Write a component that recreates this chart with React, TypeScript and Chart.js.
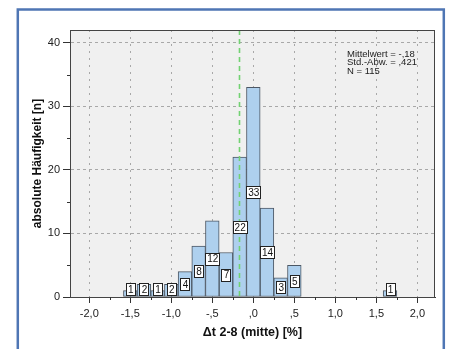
import React, { useEffect, useRef } from "react";
import { Chart, registerables } from "chart.js";

Chart.register(...registerables);

// ---- data ----
const BIN_CENTERS = [-1.5, -1.3333, -1.1667, -1.0, -0.8333, -0.6667, -0.5, -0.3333, -0.1667, 0, 0.1667, 0.3333, 0.5, 1.6667];
const COUNTS = [1, 2, 1, 2, 4, 8, 12, 7, 22, 33, 14, 3, 5, 1];
const MEAN = -0.18;
const X_TICK_VALUES = [-2, -1.5, -1, -0.5, 0, 0.5, 1, 1.5, 2];
const X_TICK_LABELS = ["-2,0", "-1,5", "-1,0", "-,5", ",0", ",5", "1,0", "1,5", "2,0"];
const X_MINOR_TICKS = [-1.75, -1.25, -0.75, -0.25, 0.25, 0.75, 1.25, 1.75];
const Y_TICK_VALUES = [0, 10, 20, 30, 40];
const Y_TICK_LABELS = ["0", "10", "20", "30", "40"];
const Y_MINOR_TICKS = [5, 15, 25, 35];
const ANNOTATION_LINES = ["Mittelwert = -,18", "Std.-Abw. = ,421", "N = 115"];
const X_TITLE = "\u0394t 2-8 (mitte) [%]";
const Y_TITLE = "absolute H\u00e4ufigkeit [n]";

const FONT = "'Liberation Sans', Arial, sans-serif";

const decorPlugin = {
  id: "decor",
  beforeDraw(chart: any) {
    const { ctx, chartArea: a } = chart;
    ctx.save();
    ctx.fillStyle = "#ffffff";
    ctx.fillRect(0, 0, chart.width, chart.height);
    ctx.strokeStyle = "#4f76b4";
    ctx.lineWidth = 2.5;
    ctx.strokeRect(17.8, 9.5, 426, 400);
    ctx.fillStyle = "#f0f0f0";
    ctx.fillRect(a.left, a.top, a.right - a.left, a.bottom - a.top);
    ctx.restore();
  },
  afterDatasetsDraw(chart: any) {
    const { ctx, chartArea: a } = chart;
    const xs = chart.scales.x;
    // mean line
    ctx.save();
    const mx = Math.round(xs.getPixelForValue(MEAN)) + 0.5;
    ctx.strokeStyle = "#72d272";
    ctx.lineWidth = 1.6;
    ctx.setLineDash([5, 4]);
    ctx.beginPath();
    ctx.moveTo(mx, a.top);
    ctx.lineTo(mx, a.bottom);
    ctx.stroke();
    ctx.restore();
    // value labels
    const meta = chart.getDatasetMeta(0);
    ctx.save();
    ctx.font = `10px ${FONT}`;
    ctx.textAlign = "center";
    ctx.textBaseline = "middle";
    meta.data.forEach((bar: any, i: number) => {
      const txt = String(COUNTS[i]);
      const tw = ctx.measureText(txt).width;
      const w = Math.round(tw + 3);
      const h = 12;
      let cy = (bar.y + bar.base) / 2;
      cy = Math.min(cy, a.bottom - 8);
      const x0 = Math.round(bar.x - w / 2) + 0.5;
      const y0 = Math.round(cy - h / 2) + 0.5;
      ctx.fillStyle = "#ffffff";
      ctx.fillRect(x0, y0, w, h);
      ctx.strokeStyle = "#222";
      ctx.lineWidth = 1;
      ctx.strokeRect(x0, y0, w, h);
      ctx.fillStyle = "#111";
      ctx.fillText(txt, bar.x + 0.5, cy + 1);
    });
    ctx.restore();
  },
  afterDraw(chart: any) {
    const { ctx, chartArea: a } = chart;
    const xs = chart.scales.x;
    const ys = chart.scales.y;
    ctx.save();
    ctx.strokeStyle = "#444";
    ctx.lineWidth = 1;
    ctx.strokeRect(Math.round(a.left) + 0.5, Math.round(a.top) + 0.5, Math.round(a.right - a.left) - 1, Math.round(a.bottom - a.top));
    // minor ticks
    ctx.strokeStyle = "#333";
    ctx.beginPath();
    X_MINOR_TICKS.forEach((v) => {
      const px = Math.round(xs.getPixelForValue(v)) + 0.5;
      ctx.moveTo(px, a.bottom);
      ctx.lineTo(px, a.bottom + 3);
    });
    Y_MINOR_TICKS.forEach((v) => {
      const py = Math.round(ys.getPixelForValue(v)) + 0.5;
      ctx.moveTo(a.left - 3, py);
      ctx.lineTo(a.left, py);
    });
    ctx.stroke();
    // annotation
    ctx.fillStyle = "#222";
    ctx.font = `9.5px ${FONT}`;
    ctx.textAlign = "left";
    ctx.textBaseline = "alphabetic";
    ANNOTATION_LINES.forEach((t, i) => {
      ctx.fillText(t, 347, 56.7 + i * 8.6);
    });
    ctx.restore();
  },
};

export default function App() {
  const ref = useRef<HTMLCanvasElement>(null);
  useEffect(() => {
    if (!ref.current) return;
    const chart = new Chart(ref.current, {
      type: "bar",
      data: {
        datasets: [
          {
            data: BIN_CENTERS.map((x, i) => ({ x, y: COUNTS[i] })),
            backgroundColor: "#aed0ee",
            borderColor: "#4c5764",
            borderWidth: 1,
            borderSkipped: false,
            barPercentage: 1,
            categoryPercentage: 1,
          },
        ],
      },
      options: {
        animation: false,
        responsive: false,
        devicePixelRatio: 1,
        layout: { padding: { left: 18, right: 16, top: 30, bottom: 0 } },
        plugins: { legend: { display: false }, tooltip: { enabled: false } },
        scales: {
          x: {
            type: "linear",
            offset: false,
            min: -2.235,
            max: 2.215,
            afterBuildTicks: (s: any) => {
              s.ticks = X_TICK_VALUES.map((v) => ({ value: v }));
            },
            afterFit: (s: any) => {
              s.height = 52;
            },
            ticks: {
              autoSkip: false,
              maxRotation: 0,
              padding: 4,
              color: "#222",
              font: { family: FONT, size: 11 },
              callback: (_v: any, i: number) => X_TICK_LABELS[i],
            },
            grid: {
              offset: false,
              color: "#a8a8a8",
              lineWidth: 1,
              drawTicks: true,
              tickLength: 6,
              tickColor: "#333",
            },
            border: { display: true, color: "#333", width: 1, dash: [2, 5] },
            title: {
              display: true,
              text: X_TITLE,
              color: "#111",
              font: { family: FONT, size: 12.5, weight: "bold" },
              padding: { top: 0, bottom: 9 },
            },
          },
          y: {
            type: "linear",
            min: 0,
            max: 42,
            afterBuildTicks: (s: any) => {
              s.ticks = Y_TICK_VALUES.map((v) => ({ value: v }));
            },
            afterFit: (s: any) => {
              s.width = 52;
            },
            ticks: {
              padding: 3,
              color: "#222",
              font: { family: FONT, size: 11 },
              callback: (_v: any, i: number) => Y_TICK_LABELS[i],
            },
            grid: {
              color: (c: any) => (c.tick && c.tick.value === 0 ? "rgba(0,0,0,0)" : "#a8a8a8"),
              lineWidth: 1,
              drawTicks: true,
              tickLength: 7,
              tickColor: "#333",
            },
            border: { display: true, color: "#333", width: 1, dash: [3, 3] },
            title: {
              display: true,
              text: Y_TITLE,
              color: "#111",
              font: { family: FONT, size: 12, weight: "bold" },
              padding: { top: 12, bottom: 0 },
            },
          },
        },
      },
      plugins: [decorPlugin],
    } as any);
    return () => chart.destroy();
  }, []);
  return (
    <div style={{ position: "absolute", left: 0, top: 0, width: 451, height: 349 }}>
      <canvas ref={ref} width={451} height={349} style={{ display: "block", width: 451, height: 349 }} />
    </div>
  );
}
